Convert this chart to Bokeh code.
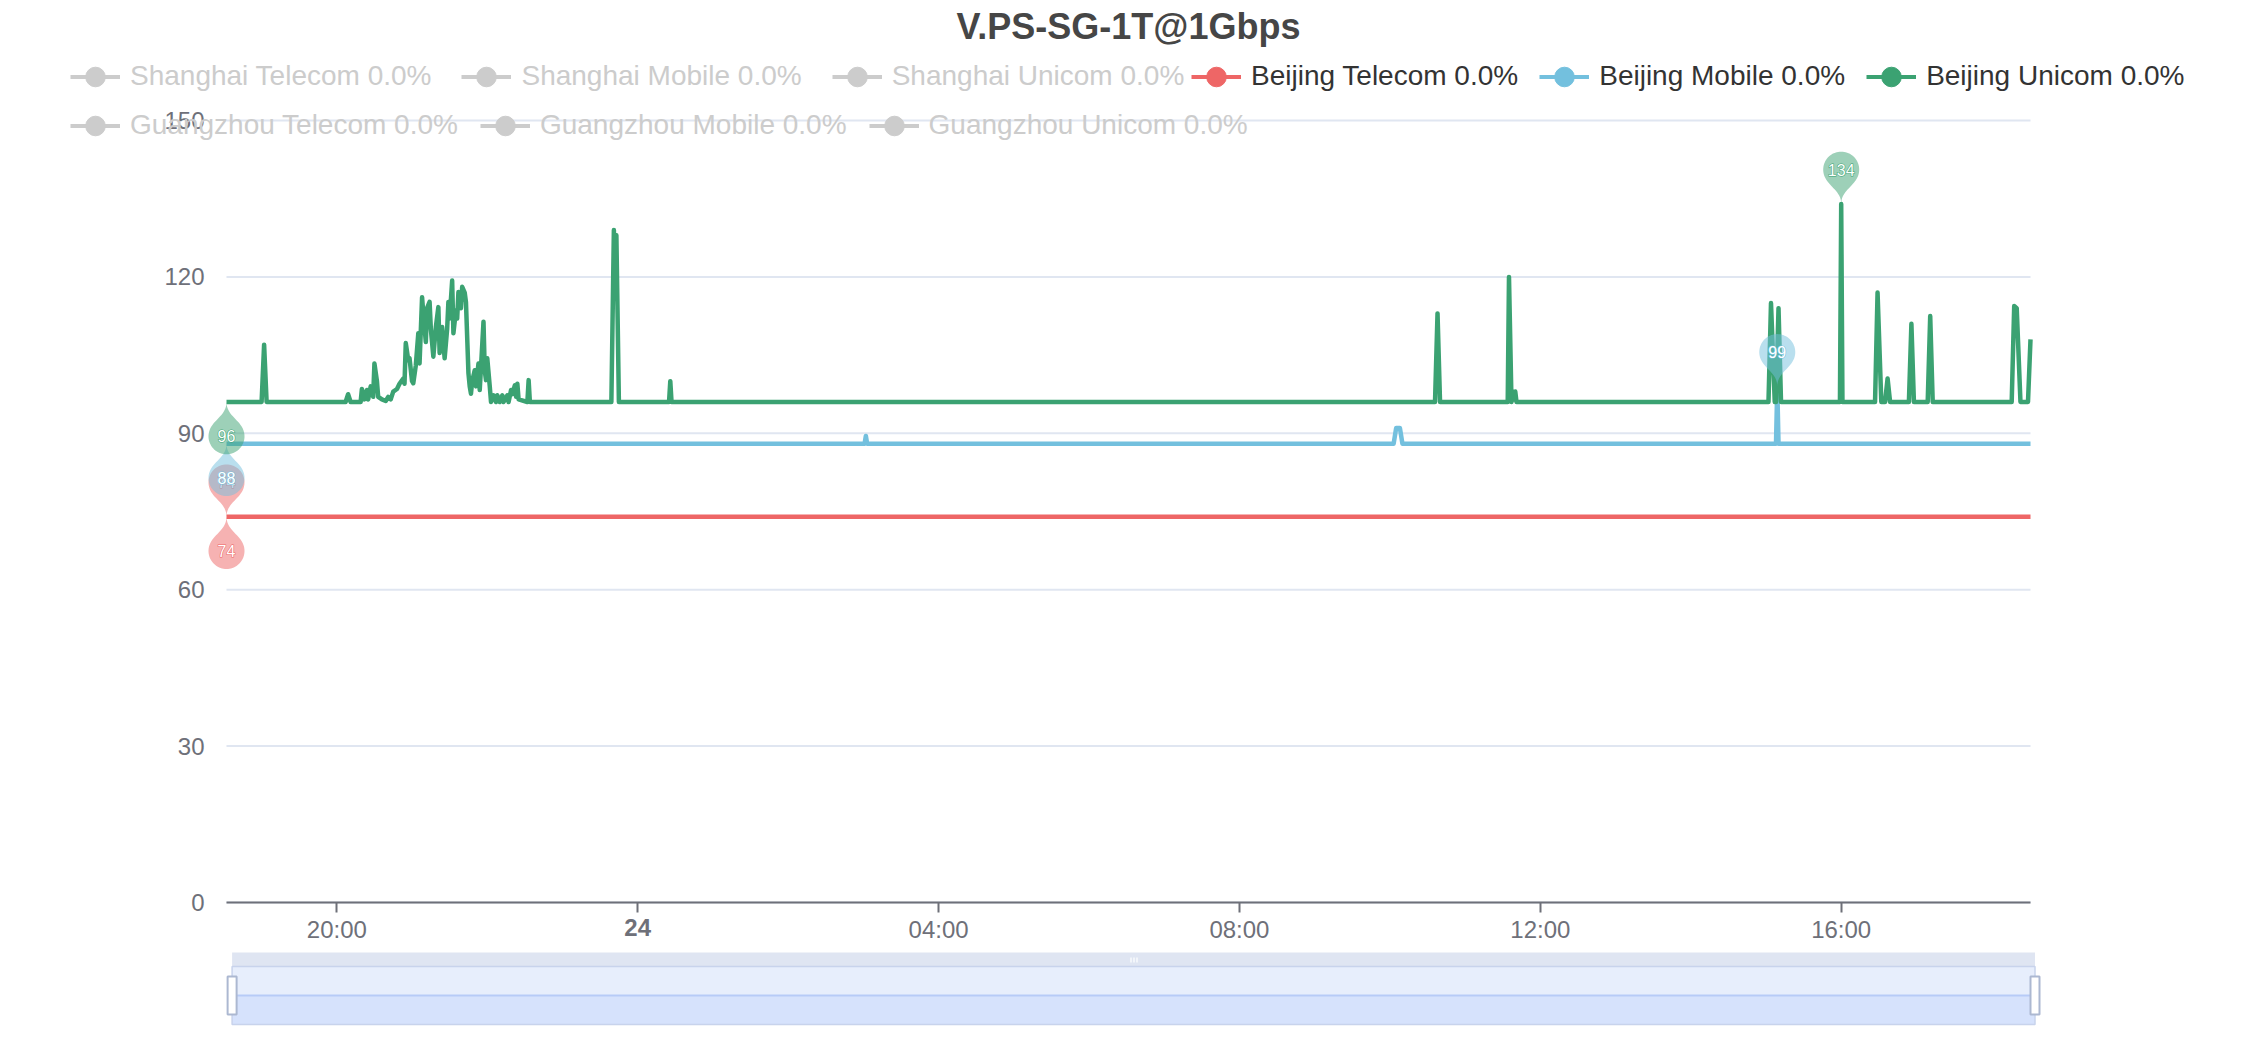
import math
import numpy as np
from bokeh.plotting import figure
from bokeh.models import Range1d, FixedTicker, Legend, LegendItem, Label, PolyAnnotation
from bokeh.embed import file_html
from bokeh.resources import INLINE

FONT = "Liberation Sans"

# ---------------- data ----------------
title_text = "V.PS-SG-1T@1Gbps"
series_names = ["Shanghai Telecom", "Shanghai Mobile", "Shanghai Unicom",
                "Beijing Telecom", "Beijing Mobile", "Beijing Unicom",
                "Guangzhou Telecom", "Guangzhou Mobile", "Guangzhou Unicom"]
series_loss = [0.0, 0.0, 0.0, 0.0, 0.0, 0.0, 0.0, 0.0, 0.0]
series_colors = ["#5470c6", "#91cc75", "#fac858", "#ee6666", "#73c0de",
                 "#3ba272", "#fc8452", "#9a60b4", "#ea7ccc"]
series_shown = [False, False, False, True, True, True, False, False, False]

x_tick_hours = [20, 24, 28, 32, 36, 40]
x_tick_labels = ["20:00", "24", "04:00", "08:00", "12:00", "16:00"]
y_tick_values = [0, 30, 60, 90, 120, 150]
y_max = 150

bj_telecom_time = ["23 18:32", "24 18:31"]
bj_telecom_ms = [74, 74]

bj_mobile_time = ["23 18:32", "24 03:01", "24 03:02", "24 03:03", "24 10:03", "24 10:05",
                  "24 10:08", "24 10:10", "24 15:08", "24 15:09", "24 15:10", "24 18:31"]
bj_mobile_ms = [88, 88, 89.5, 88, 88, 91, 91, 88, 88, 99, 88, 88]

bj_unicom_time = [
    "23 18:32", "23 19:00", "23 19:02", "23 19:04", "23 20:07", "23 20:09", "23 20:11",
    "23 20:19", "23 20:20", "23 20:22", "23 20:24", "23 20:25", "23 20:27", "23 20:29",
    "23 20:30", "23 20:32", "23 20:33", "23 20:36", "23 20:39", "23 20:41", "23 20:43",
    "23 20:45", "23 20:48", "23 20:50", "23 20:53", "23 20:54", "23 20:55", "23 20:57",
    "23 20:58", "23 21:00", "23 21:01", "23 21:03", "23 21:05", "23 21:06", "23 21:08",
    "23 21:09", "23 21:11", "23 21:12", "23 21:14", "23 21:15", "23 21:17", "23 21:19",
    "23 21:21", "23 21:22", "23 21:24", "23 21:26", "23 21:28", "23 21:29", "23 21:30",
    "23 21:32", "23 21:33", "23 21:35", "23 21:36", "23 21:37", "23 21:39", "23 21:40",
    "23 21:42", "23 21:43", "23 21:45", "23 21:46", "23 21:47", "23 21:48", "23 21:50",
    "23 21:51", "23 21:53", "23 21:54", "23 21:57", "23 21:58", "23 21:59", "23 22:00",
    "23 22:02", "23 22:03", "23 22:05", "23 22:07", "23 22:08", "23 22:10", "23 22:12",
    "23 22:13", "23 22:16", "23 22:17", "23 22:19", "23 22:20", "23 22:22", "23 22:23",
    "23 22:24", "23 22:25", "23 22:32", "23 22:33", "23 22:34", "23 23:39", "23 23:41",
    "23 23:42", "23 23:43", "23 23:45", "24 00:25", "24 00:26", "24 00:27", "24 10:36",
    "24 10:38", "24 10:40", "24 11:34", "24 11:35", "24 11:37", "24 11:38", "24 11:39",
    "24 11:40", "24 11:41", "24 15:02", "24 15:04", "24 15:07", "24 15:08", "24 15:10",
    "24 15:12", "24 15:59", "24 16:00", "24 16:01", "24 16:27", "24 16:29", "24 16:32",
    "24 16:35", "24 16:37", "24 16:39", "24 16:54", "24 16:56", "24 16:58", "24 17:09",
    "24 17:11", "24 17:13", "24 18:16", "24 18:18", "24 18:20", "24 18:23", "24 18:29",
    "24 18:31"]
bj_unicom_ms = [
    96, 96, 107, 96, 96, 97.5, 96,
    96, 98.5, 96.5, 98.3, 96.5, 99, 97,
    103.4, 100, 97, 96.5, 96.2, 97, 96.5,
    98, 98.5, 99.5, 100.5, 99.5, 107.3, 104,
    104.4, 100, 99.6, 103, 109.2, 103.4, 116.1,
    113, 107.5, 114, 115.2, 110, 104.7, 110.4,
    114.2, 105.4, 110.4, 104.4, 110, 115.2, 112,
    119.3, 109.2, 113.6, 112, 117.1, 114, 118.1,
    117, 115.2, 101.5, 99, 97.6, 100, 102.1,
    99, 103.4, 98.3, 111.4, 102, 100.2, 104.4,
    99, 96, 97.3, 96, 97.3, 96, 97.3,
    96, 97.3, 96, 98.3, 97.5, 99.2, 97,
    99.5, 96.5, 96, 100.2, 96, 96, 129,
    118, 128, 96, 96, 100, 96, 96,
    113, 96, 96, 120, 96, 98, 96.5,
    98, 96, 96, 115, 96, 96, 114,
    96, 96, 134, 96, 96, 117, 96,
    96, 100.5, 96, 96, 111, 96, 96,
    112.5, 96, 96, 114.4, 114, 96, 96,
    108]

series_data = {
    "Beijing Telecom": (bj_telecom_time, bj_telecom_ms),
    "Beijing Mobile": (bj_mobile_time, bj_mobile_ms),
    "Beijing Unicom": (bj_unicom_time, bj_unicom_ms),
}


def to_hours(stamp):
    day, hm = stamp.split()
    hh, mm = hm.split(":")
    return (int(day) - 23) * 24 + int(hh) + int(mm) / 60.0


# ---------------- layout (canvas px) ----------------
W, H = 2248, 1032
PX0, PX1 = 226, 2030        # plot-area left / right
PY0, PYTOP = 902, 120       # y = 0 and y = y_max

all_h = [to_hours(t) for ts, _ in series_data.values() for t in ts]
x_start, x_end = min(all_h), max(all_h)
XPP = (x_end - x_start) / (PX1 - PX0)
YPP = y_max / (PY0 - PYTOP)


def dx(px):  # canvas x -> data x
    return x_start + (px - PX0) * XPP


def dy(py):  # canvas y -> data y
    return (PY0 - py) * YPP


p = figure(width=W, height=H, min_border=0,
           x_range=Range1d(dx(0), dx(W)), y_range=Range1d(dy(H), dy(0)),
           toolbar_location=None, output_backend="svg")
p.title.visible = False
p.outline_line_color = None
p.background_fill_color = "white"
p.border_fill_color = "white"
p.xgrid.visible = False
p.ygrid.visible = False

# grid lines over the plot area only
p.segment(x0=[x_start] * len(y_tick_values), x1=[x_end] * len(y_tick_values),
          y0=y_tick_values, y1=y_tick_values, line_color="#e0e6f1", line_width=2)

# axes drawn at fixed locations inside the canvas
p.yaxis.fixed_location = x_start
p.yaxis.bounds = (0, y_max)
p.yaxis.ticker = FixedTicker(ticks=y_tick_values)
p.yaxis.axis_line_color = None
p.yaxis.major_tick_line_color = None
p.yaxis.minor_tick_line_color = None
p.yaxis.major_label_standoff = 16
p.yaxis.major_label_text_font = FONT
p.yaxis.major_label_text_font_size = "24px"
p.yaxis.major_label_text_color = "#6e7079"

p.xaxis.fixed_location = 0
p.xaxis.bounds = (x_start, x_end)
p.xaxis.ticker = FixedTicker(ticks=x_tick_hours)
p.xaxis.major_label_overrides = {h: ("" if lab == "24" else lab)
                                 for h, lab in zip(x_tick_hours, x_tick_labels)}
p.xaxis.axis_line_color = "#6e7079"
p.xaxis.axis_line_width = 2
p.xaxis.major_tick_line_color = "#6e7079"
p.xaxis.major_tick_line_width = 2
p.xaxis.major_tick_out = 10
p.xaxis.major_tick_in = 0
p.xaxis.minor_tick_line_color = None
p.xaxis.major_label_standoff = 3
p.xaxis.major_label_text_font = FONT
p.xaxis.major_label_text_font_size = "24px"
p.xaxis.major_label_text_color = "#6e7079"

for h, lab in zip(x_tick_hours, x_tick_labels):
    if lab == "24":
        p.add_layout(Label(x=h, y=dy(927), text=lab, text_font=FONT,
                           text_font_size="24px", text_font_style="bold",
                           text_color="#6e7079", text_align="center",
                           text_baseline="middle"))

# series lines
for name, color in zip(series_names, series_colors):
    if name in series_data:
        ts, vs = series_data[name]
        p.line(x=[to_hours(t) for t in ts], y=vs, line_color=color,
               line_width=4.5, line_join="round")

# legend renderers (a single NaN point each: nothing drawn on the plot)
NAN = float("nan")
leg_r = {}
for name, color, shown in zip(series_names, series_colors, series_shown):
    c = color if shown else "#cccccc"
    ln = p.line(x=[NAN], y=[NAN], line_color=c, line_width=4)
    sc = p.scatter(x=[NAN], y=[NAN], marker="circle", size=10, fill_color=c, line_color=c)
    leg_r[name] = [ln, sc]


def make_legend(names, left_px, bottom_px, text_color, spacing):
    items = [LegendItem(label=f"{n} {series_loss[series_names.index(n)]:.1f}%",
                        renderers=leg_r[n]) for n in names]
    lg = Legend(items=items, location=(left_px, H - bottom_px), orientation="horizontal",
                glyph_width=50, glyph_height=49, label_standoff=10,
                spacing=spacing, padding=0, margin=0,
                border_line_color=None, background_fill_alpha=0,
                label_text_font=FONT, label_text_font_size="28px",
                label_text_color=text_color)
    p.add_layout(lg)


make_legend(series_names[0:3], 70, 100.5, "#cccccc", 30)
make_legend(series_names[3:6], 1191, 100.5, "#333333", 21)
make_legend(series_names[6:9], 70, 149.5, "#cccccc", 22)

# title
p.add_layout(Label(x=dx(1128), y=dy(26), text=title_text,
                   text_font=FONT, text_font_size="36px", text_font_style="bold",
                   text_color="#464646", text_align="center", text_baseline="middle"))


# ---------------- max / min pins ----------------
def pin_outline(size=60, n_arc=48, n_bez=16):
    w = size * 3 / 5
    h = size
    r = w / 2
    ddy = r * r / (h - r)
    cy = -(h - r - ddy)
    a = math.asin(ddy / r)
    ddx = math.cos(a) * r
    tx, ty = math.sin(a), math.cos(a)
    c1, c2 = r * 0.6, r * 0.7
    pts = []
    for k in range(n_arc + 1):
        th = (math.pi - a) + (math.pi + 2 * a) * k / n_arc
        pts.append((r * math.cos(th), cy + r * math.sin(th)))

    def bez(p0, p1, p2, p3):
        for k in range(1, n_bez + 1):
            t = k / n_bez
            u = 1 - t
            pts.append((u ** 3 * p0[0] + 3 * u * u * t * p1[0] + 3 * u * t * t * p2[0] + t ** 3 * p3[0],
                        u ** 3 * p0[1] + 3 * u * u * t * p1[1] + 3 * u * t * t * p2[1] + t ** 3 * p3[1]))

    bez((ddx, cy + ddy), (ddx - tx * c1, cy + ddy + ty * c1), (0, -c2), (0, 0))
    bez((0, 0), (0, -c2), (-ddx + tx * c1, cy + ddy + ty * c1), (-ddx, cy + ddy))
    return [(x, -y) for x, y in pts], -cy


PIN, PIN_C = pin_outline()

for name, color in zip(series_names, series_colors):
    if name not in series_data:
        continue
    ts, vs = series_data[name]
    hrs = np.array([to_hours(t) for t in ts])
    vals = np.array(vs, dtype=float)
    for kind in ("max", "min"):
        i = int(np.argmax(vals)) if kind == "max" else int(np.argmin(vals))
        xd, yd = hrs[i], vals[i]
        sgn = 1 if kind == "max" else -1
        xs = [xd + sgn * px * XPP for px, _ in PIN]
        ys = [yd + sgn * py * YPP for _, py in PIN]
        p.add_layout(PolyAnnotation(xs=xs, ys=ys, fill_color=color, fill_alpha=0.5,
                                    line_color=None))
        ly = yd + sgn * PIN_C * YPP
        txt = f"{vals[i]:.0f}"
        p.add_layout(Label(x=xd, y=ly, text=txt, text_font=FONT, text_font_size="16px",
                           text_color=color, text_outline_color=color,
                           text_align="center", text_baseline="middle"))
        p.add_layout(Label(x=xd, y=ly, text=txt, text_font=FONT, text_font_size="16px",
                           text_color="white", text_align="center", text_baseline="middle"))

# ---------------- data-zoom slider (below the plot) ----------------
sl_l, sl_r = dx(231.6), dx(2034.5)
p.quad(left=sl_l, right=sl_r, bottom=dy(966), top=dy(952), fill_color="#dfe5f2", line_color=None)
p.quad(left=sl_l, right=sl_r, bottom=dy(995), top=dy(966), fill_color="#e7eefc", line_color=None)
p.quad(left=sl_l, right=sl_r, bottom=dy(1024), top=dy(995), fill_color="#d6e2fc", line_color=None)
p.segment(x0=sl_l, y0=dy(995), x1=sl_r, y1=dy(995), line_color="#b7cbf7", line_width=2)
p.quad(left=sl_l, right=sl_r, bottom=dy(1024), top=dy(966), fill_color=None,
       line_color="#c8d3ec", line_width=1.5)
for gx in (1130.5, 1133.5, 1136.5):
    p.segment(x0=dx(gx), y0=dy(957), x1=dx(gx), y1=dy(962), line_color="white", line_width=1.2)
p.rect(x=[sl_l, sl_r], y=[dy(995), dy(995)], width=9 * XPP, height=38 * YPP,
       fill_color="white", line_color="#acb8d1", line_width=2)

open("out.html", "w").write(file_html(p, INLINE))
